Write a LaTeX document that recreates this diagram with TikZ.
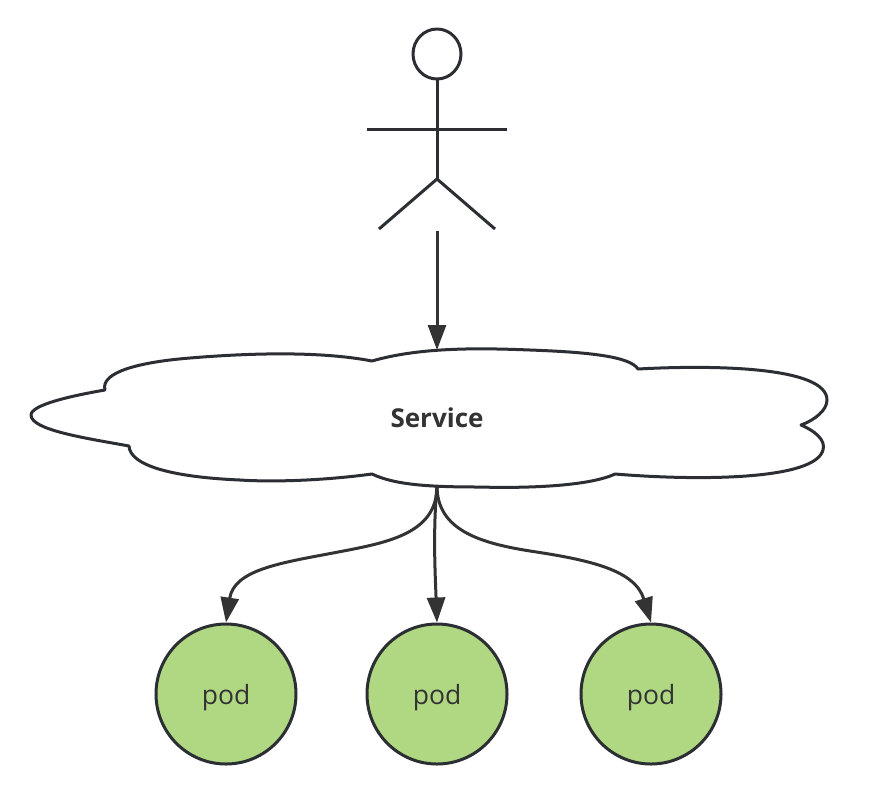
\documentclass[tikz,border=0pt]{standalone}
\usepackage{fontspec}
\setmainfont{Open Sans}
\usetikzlibrary{arrows.meta}
\definecolor{ink}{HTML}{2B2F33}
\definecolor{arrowink}{HTML}{333333}
\definecolor{podgreen}{HTML}{B0D882}
\tikzset{
  line/.style={draw=ink,line width=3pt,line cap=round,line join=round},
  conn/.style={draw=arrowink,line width=3pt,-{Triangle[length=25pt,width=18pt]}},
  podnode/.style={circle,draw=ink,line width=3pt,fill=podgreen,minimum size=140pt,inner sep=0pt,text=arrowink,text height=21pt,text depth=0pt,font=\fontsize{26.5}{30}\selectfont},
}
\begin{document}
\begin{tikzpicture}[x=1pt,y=-1pt]
\useasboundingbox (0,0) rectangle (869,801);
\fill[white] (0,0) rectangle (869,801);
% stick figure
\draw[line] (437,54) ellipse [x radius=24,y radius=25];
\draw[line] (437,79) -- (437,179);
\draw[line,line cap=butt] (367,129) -- (507,129);
\draw[line,line cap=butt] (379,229) -- (437,179) -- (495,229);
% cloud
\path[line,fill=white] (105,390)
  .. controls (100,372) and (140,362) .. (190,358)
  .. controls (250,353) and (320,351) .. (372,361)
  .. controls (420,347) and (480,348) .. (530,350)
  .. controls (585,352) and (630,356) .. (638,369)
  .. controls (710,365) and (827,366) .. (827,400)
  .. controls (827,410) and (815,420) .. (801,425)
  .. controls (815,431) and (826,440) .. (823,450)
  .. controls (815,480) and (700,481) .. (615,474)
  .. controls (585,488) and (510,488) .. (480,487)
  .. controls (430,487) and (395,485) .. (372,474)
  .. controls (320,481) and (270,482) .. (240,480)
  .. controls (170,477) and (130,465) .. (129,446)
  .. controls (85,438) and (31,430) .. (31,415)
  .. controls (31,405) and (70,396) .. (105,390) -- cycle;
\node[font=\bfseries\fontsize{26}{30}\selectfont,text=arrowink] (service) at (437,418) {Service};
\coordinate (cloudtop) at (437,350);
\coordinate (cloudbottom) at (437,486);
\coordinate (figurefoot) at (437,231);
% pods
\node[podnode] (poda) at (226,694) {pod};
\node[podnode] (podb) at (437,694) {pod};
\node[podnode] (podc) at (651,694) {pod};
% connectors
\draw[conn] (figurefoot) -- (cloudtop);
\draw[conn] (cloudbottom) .. controls (437,535) and (385,543) .. (333,553) .. controls (280,563) and (234,570) .. (poda.north);
\draw[conn] (cloudbottom) .. controls (433,530) and (435,570) .. (podb.north);
\draw[conn] (cloudbottom) .. controls (437,530) and (480,543) .. (530,551) .. controls (590,560) and (635,570) .. (podc.north);
\end{tikzpicture}
\end{document}
